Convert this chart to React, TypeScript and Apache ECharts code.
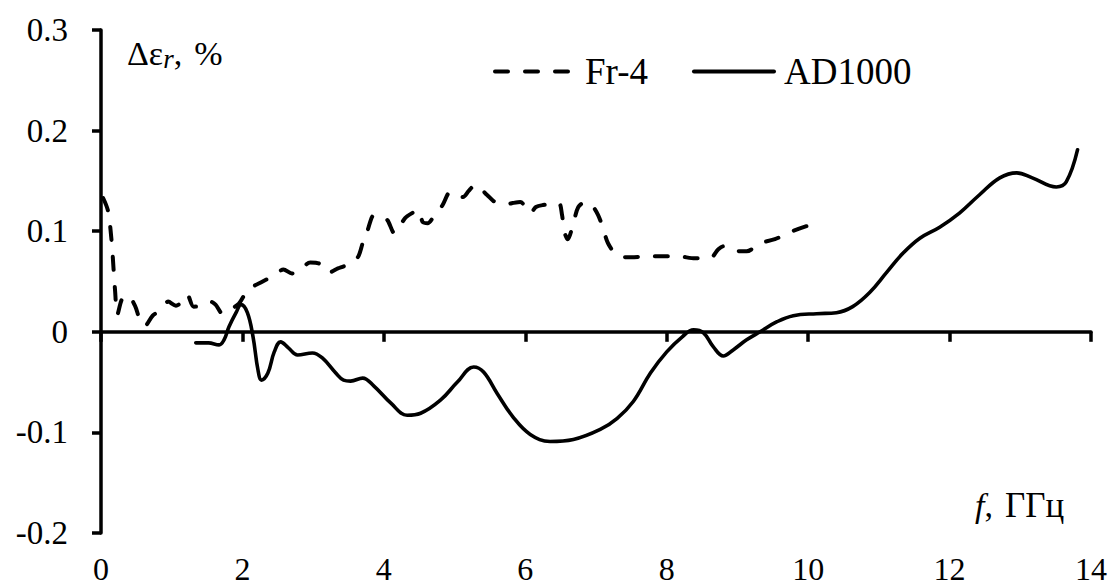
import React, { useEffect, useRef } from 'react';
import * as echarts from 'echarts';

const FONT = "'Liberation Serif', serif";

const seriesNames = ['Fr-4', 'AD1000'];

const fr4X = [0.03, 0.1, 0.15, 0.18, 0.2, 0.23, 0.3, 0.38, 0.48, 0.55, 0.62, 0.73, 0.85, 0.95, 1.06, 1.15, 1.22, 1.31, 1.44, 1.55, 1.62, 1.72, 1.8, 1.95, 2.08, 2.26, 2.47, 2.58, 2.7, 2.8, 2.96, 3.08, 3.13, 3.22, 3.35, 3.46, 3.63, 3.7, 3.77, 3.86, 3.95, 4.05, 4.15, 4.22, 4.3, 4.4, 4.49, 4.55, 4.62, 4.7, 4.83, 4.94, 5.03, 5.12, 5.2, 5.29, 5.46, 5.55, 5.62, 5.75, 5.82, 5.93, 6.07, 6.15, 6.25, 6.47, 6.52, 6.55, 6.6, 6.68, 6.75, 6.85, 6.95, 7.03, 7.1, 7.17, 7.3, 7.5, 7.72, 8.0, 8.16, 8.4, 8.61, 8.73, 8.8, 8.92, 9.13, 9.32, 9.53, 9.74, 10.02];
const fr4Y = [0.133, 0.12, 0.09, 0.06, 0.04, 0.017, 0.033, 0.036, 0.026, 0.012, 0.006, 0.016, 0.022, 0.03, 0.026, 0.03, 0.037, 0.025, 0.026, 0.03, 0.027, 0.018, 0.021, 0.028, 0.042, 0.049, 0.057, 0.062, 0.058, 0.06, 0.069, 0.068, 0.063, 0.059, 0.063, 0.066, 0.074, 0.088, 0.101, 0.116, 0.115, 0.111, 0.098, 0.104, 0.113, 0.118, 0.121, 0.109, 0.108, 0.114, 0.126, 0.139, 0.137, 0.134, 0.14, 0.146, 0.136, 0.13, 0.128, 0.127, 0.128, 0.129, 0.118, 0.124, 0.126, 0.128, 0.116, 0.1, 0.092, 0.108, 0.124, 0.129, 0.125, 0.116, 0.103, 0.088, 0.076, 0.074, 0.075, 0.075, 0.075, 0.073, 0.073, 0.082, 0.085, 0.081, 0.08, 0.088, 0.092, 0.099, 0.106];

const adX = [1.34, 1.52, 1.67, 1.74, 1.81, 1.91, 1.98, 2.07, 2.15, 2.22, 2.27, 2.36, 2.45, 2.54, 2.65, 2.78, 2.99, 3.13, 3.32, 3.43, 3.53, 3.7, 3.86, 4.1, 4.33, 4.52, 4.8, 5.04, 5.27, 5.41, 5.6, 5.83, 6.07, 6.35, 6.68, 7.06, 7.3, 7.53, 7.77, 8.0, 8.22, 8.38, 8.52, 8.66, 8.8, 8.94, 9.13, 9.32, 9.56, 9.79, 10.12, 10.4, 10.63, 10.87, 11.11, 11.34, 11.58, 11.86, 12.14, 12.42, 12.71, 12.95, 13.17, 13.51, 13.65, 13.81];
const adY = [-0.011, -0.011, -0.013, -0.008, 0.005, 0.019, 0.027, 0.019, -0.005, -0.038, -0.048, -0.041, -0.02, -0.01, -0.016, -0.023, -0.021, -0.026, -0.041, -0.048, -0.049, -0.046, -0.054, -0.071, -0.083, -0.081, -0.068, -0.05, -0.035, -0.04, -0.061, -0.085, -0.102, -0.109, -0.107, -0.097, -0.086, -0.069, -0.041, -0.02, -0.005, 0.002, -0.001, -0.015, -0.024, -0.018, -0.008, 0.0, 0.01, 0.016, 0.018, 0.019, 0.025, 0.039, 0.059, 0.078, 0.093, 0.104, 0.118, 0.136, 0.153, 0.158, 0.153, 0.144, 0.149, 0.181];

const xMin = 0, xMax = 14, xStep = 2;
const yMin = -0.2, yMax = 0.3, yStep = 0.1;

const zip = (xs: number[], ys: number[]) => xs.map((x, i) => [x, ys[i]]);

export default function App() {
  const ref = useRef<HTMLDivElement>(null);
  useEffect(() => {
    if (!ref.current) return;
    const chart = echarts.init(ref.current, null, { renderer: 'svg' });
    const axisLineStyle = { color: '#000', width: 3.5 };
    const baseX = { type: 'value', min: xMin, max: xMax, interval: xStep, splitLine: { show: false } };
    chart.setOption({
      animation: false,
      backgroundColor: '#fff',
      grid: { left: 101, right: 21, top: 30, bottom: 55 },
      legend: {
        left: 488,
        top: 48,
        itemWidth: 80,
        itemHeight: 4,
        itemGap: 44,
        itemStyle: { opacity: 0, color: 'rgba(0,0,0,0)', borderWidth: 0 },
        lineStyle: { width: 4 },
        textStyle: { fontFamily: FONT, fontSize: 37, color: '#000', padding: [0, 0, 0, 5] },
        data: seriesNames,
      },
      xAxis: [
        {
          ...baseX,
          position: 'bottom',
          axisLine: { show: true, onZero: true, lineStyle: axisLineStyle },
          axisTick: { show: true, length: 10, lineStyle: axisLineStyle },
          axisLabel: { show: false },
        },
        {
          ...baseX,
          position: 'bottom',
          axisLine: { show: false, onZero: false },
          axisTick: { show: false },
          axisLabel: { show: true, margin: 20, fontFamily: FONT, fontSize: 32, color: '#000' },
        },
      ],
      yAxis: {
        type: 'value',
        min: yMin,
        max: yMax,
        interval: yStep,
        splitLine: { show: false },
        axisLine: { show: true, lineStyle: axisLineStyle },
        axisTick: { show: true, length: 9, lineStyle: axisLineStyle },
        axisLabel: {
          margin: 33,
          fontFamily: FONT,
          fontSize: 33,
          color: '#000',
          formatter: (v: number) => String(Math.round(v * 10) / 10),
        },
      },
      graphic: [
        {
          type: 'text',
          left: 127,
          top: 36,
          style: {
            text: '{a|Δε}{r|r}{c|,}{p|%}',
            rich: {
              a: { fontFamily: FONT, fontSize: 34, fill: '#000' },
              c: { fontFamily: FONT, fontSize: 34, fill: '#000' },
              p: { fontFamily: FONT, fontSize: 34, fill: '#000', padding: [0, 0, 0, 12] },
              r: { fontFamily: FONT, fontSize: 27, fontStyle: 'italic', fill: '#000', padding: [12, 0, 0, 0] },
            },
          },
        },
        {
          type: 'text',
          left: 975,
          top: 488,
          style: {
            text: '{f|f}{c|,}{a|ГГц}',
            rich: {
              f: { fontFamily: FONT, fontSize: 34, fontStyle: 'italic', fill: '#000' },
              c: { fontFamily: FONT, fontSize: 34, fill: '#000' },
              a: { fontFamily: FONT, fontSize: 35, fill: '#000', padding: [0, 0, 0, 12] },
            },
          },
        },
      ],
      series: [
        {
          name: seriesNames[0],
          type: 'line',
          xAxisIndex: 0,
          symbol: 'none',
          smooth: 0.3,
          data: zip(fr4X, fr4Y),
          lineStyle: { color: '#000', width: 4, type: [13, 17], cap: 'round' },
          itemStyle: { color: '#000' },
        },
        {
          name: seriesNames[1],
          type: 'line',
          xAxisIndex: 0,
          symbol: 'none',
          smooth: 0.4,
          data: zip(adX, adY),
          lineStyle: { color: '#000', width: 3.6, type: 'solid', cap: 'round' },
          itemStyle: { color: '#000' },
        },
      ],
    });
    return () => chart.dispose();
  }, []);
  return <div ref={ref} style={{ position: 'fixed', left: 0, top: 0, width: 1112, height: 588 }} />;
}
